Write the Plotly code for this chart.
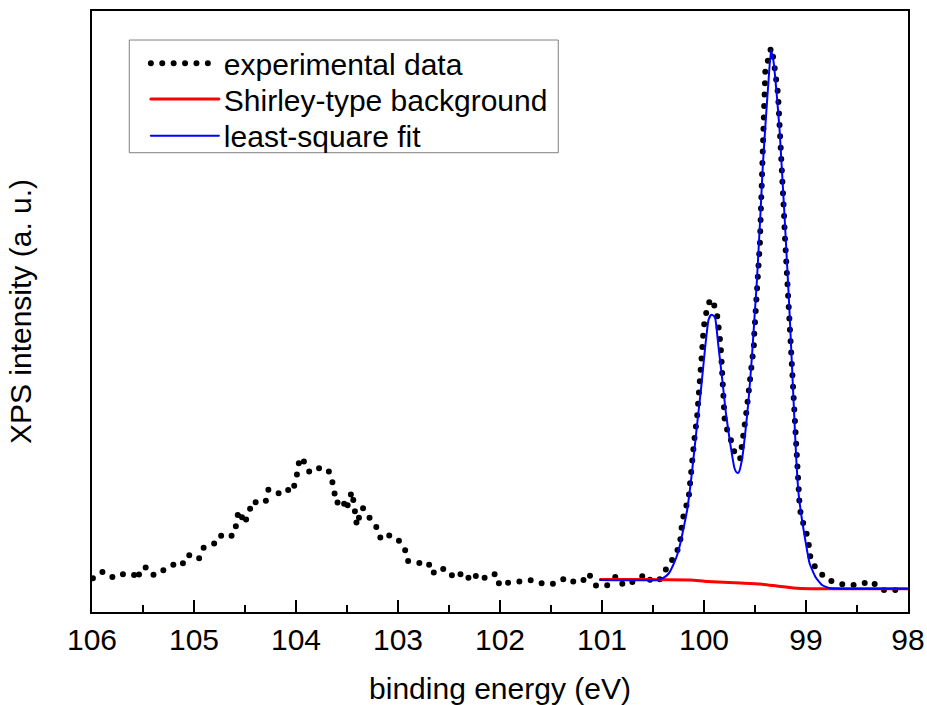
import plotly.graph_objects as go

# experimental data (binding energy eV, intensity a.u.)
exp_E = [105.991, 105.893, 105.788, 105.683, 105.589, 105.553, 105.523, 105.457, 105.393, 105.281,
         105.196, 105.124, 105.059, 104.954, 104.905, 104.800, 104.748, 104.676, 104.601, 104.584,
         104.564, 104.545, 104.505, 104.463, 104.421, 104.362, 104.293, 104.270, 104.228, 104.152,
         104.087, 104.041, 104.002, 103.982, 103.963, 103.926, 103.867, 103.786, 103.685, 103.646,
         103.626, 103.603, 103.548, 103.504, 103.479, 103.452, 103.433, 103.420, 103.403, 103.381,
         103.347, 103.279, 103.210, 103.168, 103.106, 103.006, 102.932, 102.903, 102.808, 102.704,
         102.660, 102.615, 102.513, 102.448, 102.356, 102.282, 102.213, 102.137, 102.042, 102.003,
         101.909, 101.801, 101.686, 101.575, 101.463, 101.349, 101.251, 101.179, 101.133, 101.058,
         100.950, 100.859, 100.790, 100.678, 100.570, 100.521, 100.445, 100.366, 100.292, 100.238,
         100.231, 100.214, 100.191, 100.152, 100.142, 100.126, 100.119, 100.109, 100.103, 100.086,
         100.070, 100.060, 100.047, 100.037, 100.030, 100.027, 100.021, 100.011, 100.005, 99.988,
         99.966, 99.932, 99.880, 99.864, 99.844, 99.838, 99.831, 99.824, 99.821, 99.815,
         99.809, 99.805, 99.795, 99.750, 99.716, 99.684, 99.645, 99.628, 99.608, 99.596,
         99.586, 99.573, 99.559, 99.547, 99.540, 99.524, 99.510, 99.507, 99.500, 99.488,
         99.475, 99.471, 99.468, 99.461, 99.458, 99.451, 99.448, 99.445, 99.442, 99.439,
         99.437, 99.435, 99.432, 99.426, 99.422, 99.419, 99.412, 99.409, 99.406, 99.402,
         99.399, 99.370, 99.343, 99.318, 99.301, 99.285, 99.275, 99.269, 99.262, 99.259,
         99.252, 99.249, 99.236, 99.230, 99.226, 99.223, 99.220, 99.213, 99.210, 99.203,
         99.193, 99.186, 99.184, 99.181, 99.177, 99.171, 99.159, 99.151, 99.147, 99.141,
         99.137, 99.131, 99.125, 99.122, 99.118, 99.112, 99.108, 99.102, 99.095, 99.085,
         99.076, 99.069, 99.063, 99.049, 99.007, 98.977, 98.968, 98.948, 98.892, 98.808,
         98.696, 98.585, 98.474, 98.362, 98.261, 98.150, 98.035]
exp_I = [33.7, 40.3, 34.3, 38.3, 37.3, 32.3, 43.7, 44.7, 36.7, 42.3,
         47.7, 46.0, 57.3, 52.7, 64.3, 68.7, 76.7, 74.0, 78.0, 89.7,
         101.0, 98.7, 88.3, 99.7, 111.2, 108.0, 111.3, 122.7, 121.0, 118.0,
         122.7, 119.7, 130.7, 142.3, 154.3, 151.3, 139.7, 144.0, 142.7, 131.3,
         120.0, 108.7, 113.3, 102.0, 113.0, 120.3, 108.7, 97.3, 86.3, 95.0,
         104.3, 94.3, 84.7, 73.0, 77.3, 73.5, 62.7, 51.0, 49.0, 49.7,
         38.3, 43.7, 42.3, 33.7, 40.0, 30.7, 38.7, 33.3, 38.3, 26.3,
         29.7, 30.7, 32.0, 28.3, 28.3, 34.3, 28.7, 32.0, 38.7, 26.3,
         26.7, 36.0, 26.7, 31.0, 38.0, 31.0, 31.0, 43.8, 55.3, 66.5,
         77.7, 89.3, 101.3, 112.0, 123.0, 134.7, 146.7, 158.0, 169.3, 180.7,
         192.0, 203.3, 214.7, 226.0, 238.0, 249.3, 260.7, 272.0, 283.7, 295.0,
         306.0, 313.3, 302.7, 291.3, 279.7, 268.0, 256.7, 244.7, 233.3, 222.0,
         210.7, 199.3, 187.7, 176.7, 165.0, 153.7, 153.7, 165.0, 176.3, 187.3,
         198.7, 210.0, 221.3, 232.7, 244.3, 256.0, 267.7, 278.7, 290.0, 301.5,
         313.3, 324.7, 336.0, 347.7, 359.0, 370.3, 381.7, 393.0, 404.3, 415.7,
         427.3, 438.7, 450.0, 461.7, 473.0, 484.3, 495.7, 507.3, 518.7, 530.0,
         541.7, 552.7, 564.3, 552.7, 541.7, 530.0, 518.7, 507.3, 495.7, 484.3,
         473.0, 461.7, 450.0, 438.7, 427.3, 415.7, 404.3, 393.0, 381.7, 370.3,
         359.0, 347.7, 336.0, 324.7, 313.3, 301.7, 290.0, 278.3, 267.0, 255.7,
         244.0, 232.7, 221.3, 209.7, 198.3, 187.0, 175.7, 164.3, 152.7, 141.3,
         130.0, 118.3, 107.0, 96.0, 84.0, 72.7, 61.3, 49.7, 43.3, 33.3,
         28.7, 26.7, 27.3, 31.0, 22.3, 21.3, 24.3]

# Shirley-type background
bg_E = [101.016, 100.626, 100.135, 99.971, 99.645, 99.448, 99.285, 99.122, 98.958, 98.009]
bg_I = [32.5, 32.5, 32.0, 30.5, 29.0, 28.0, 26.0, 24.0, 23.3, 23.3]

# least-square fit
fit_E = [101.016, 100.462, 100.400, 100.346, 100.302, 100.263, 100.229, 100.194, 100.165, 100.119,
         100.070, 100.027, 99.988, 99.956, 99.932, 99.910, 99.890, 99.858, 99.824, 99.785,
         99.743, 99.701, 99.679, 99.661, 99.628, 99.596, 99.563, 99.530, 99.498, 99.481,
         99.448, 99.422, 99.390, 99.367, 99.343, 99.318, 99.285, 99.259, 99.236, 99.210,
         99.186, 99.164, 99.137, 99.115, 99.095, 99.073, 99.039, 99.007, 98.965, 98.909,
         98.843, 98.762, 98.631, 98.009]
fit_I = [32.0, 32.0, 34.0, 38.5, 47.0, 57.0, 70.0, 87.0, 102.0, 138.7,
         185.3, 225.3, 265.3, 292.0, 297.0, 296.5, 293.7, 265.3, 235.3, 198.7,
         168.7, 143.7, 139.5, 139.3, 152.0, 178.7, 212.0, 255.3, 305.3, 332.0,
         395.3, 448.7, 498.7, 532.0, 562.0, 550.3, 515.3, 482.0, 442.0, 395.3,
         348.7, 305.3, 245.3, 195.3, 152.0, 118.7, 92.0, 72.0, 48.7, 35.3,
         27.0, 23.7, 23.3, 23.3]

x_ticks = [106, 105, 104, 103, 102, 101, 100, 99, 98]
x_ticktext = [str(t) for t in x_ticks]

FONT = "Liberation Sans, Arial, sans-serif"

fig = go.Figure()
fig.add_trace(go.Scatter(x=exp_E, y=exp_I, mode="lines", name="experimental data",
                         legend="legend",
                         line=dict(color="black", width=6, dash="0px,11.4px")))
fig.add_trace(go.Scatter(x=bg_E, y=bg_I, mode="lines", name="Shirley-type background",
                         legend="legend2",
                         line=dict(color="#ff0000", width=3, shape="spline", smoothing=0.5)))
fig.add_trace(go.Scatter(x=fit_E, y=fit_I, mode="lines", name="least-square fit",
                         legend="legend3",
                         line=dict(color="#0000ff", width=2, shape="spline", smoothing=0.4)))

leg_common = dict(xanchor="left", yanchor="middle", borderwidth=0,
                  bgcolor="rgba(0,0,0,0)", font=dict(size=30), itemwidth=68)
LEG_X = 0.0660
fig.update_layout(
    width=927, height=705,
    margin=dict(l=92, r=19, t=11, b=93, autoexpand=False),
    plot_bgcolor="white", paper_bgcolor="white",
    font=dict(family=FONT, size=30, color="black"),
    showlegend=True,
    legend=dict(x=LEG_X, y=0.9130, **leg_common),
    legend2=dict(x=LEG_X, y=0.8536, **leg_common),
    legend3=dict(x=LEG_X, y=0.7925, **leg_common),
    shapes=[dict(type="rect", xref="paper", yref="paper",
                 x0=0.0457, x1=0.5714, y0=0.7642, y1=0.9517,
                 line=dict(color="#808080", width=1), fillcolor="white", layer="above")],
)
fig.update_xaxes(
    range=[106, 98], tickmode="array", tickvals=x_ticks, ticktext=x_ticktext,
    ticks="inside", ticklen=12, tickwidth=2, tickcolor="black",
    minor=dict(ticks="inside", ticklen=7, tickwidth=2, tickcolor="black", dtick=0.5, tick0=98),
    showline=True, linewidth=2, linecolor="black", mirror=True,
    showgrid=False, zeroline=False, automargin=False,
    tickfont=dict(size=30), ticklabelstandoff=0,
    title=dict(text="binding energy (eV)", font=dict(size=30), standoff=24),
)
fig.update_yaxes(
    range=[0, 601], showticklabels=False, ticks="",
    showline=True, linewidth=2, linecolor="black", mirror=True,
    showgrid=False, zeroline=False, automargin=False,
    title=dict(text="XPS intensity (a. u.)", font=dict(size=30), standoff=50),
)

post = ("document.body.style.margin='0';"
        "var s=document.createElement('style');"
        "s.textContent='body{margin:0}path.js-line, .legendlines path, path.legendlines{stroke-linecap:round !important}';"
        "document.head.appendChild(s);")
fig.write_html("out.html", post_script=post, config={"displayModeBar": False})
